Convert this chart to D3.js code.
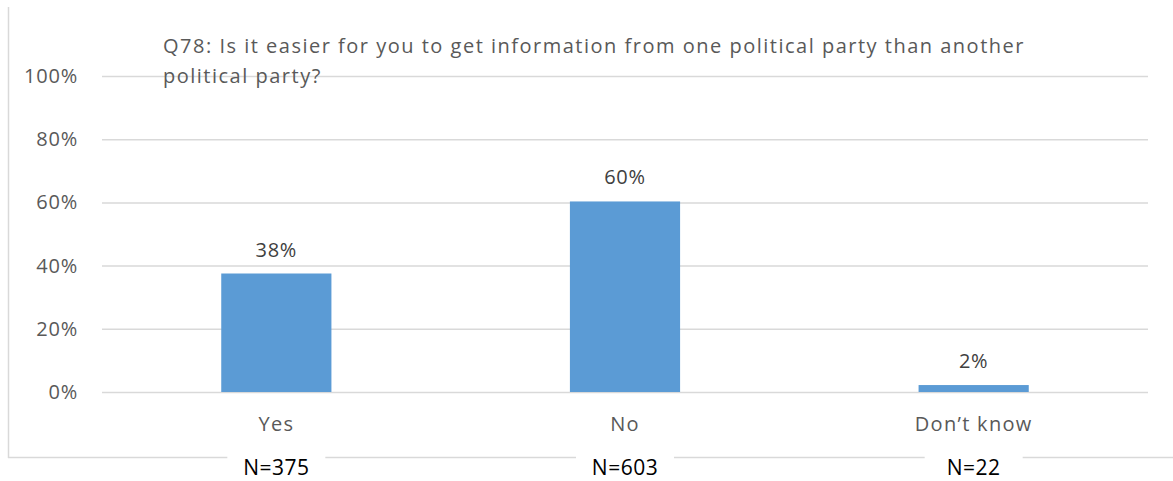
<!DOCTYPE html>
<html>
<head>
<meta charset="utf-8">
<script src="https://cdn.jsdelivr.net/npm/d3@7"></script>
<style>
  html, body { margin: 0; padding: 0; background: #fff; }
  svg { display: block; }
  text { font-family: "Open Sans", "Noto Sans", sans-serif; }
</style>
</head>
<body>
<svg id="chart" width="1173" height="481"></svg>
<script>
const categories = ["Yes", "No", "Don\u2019t know"];
const values = [37.5, 60.3, 2.2];
const valueLabels = ["38%", "60%", "2%"];
const sampleSizes = ["N=375", "N=603", "N=22"];
const yTicks = [0, 20, 40, 60, 80, 100];
const titleLines = [
  "Q78: Is it easier for you to get  information from one political party than another",
  "political party?"
];

const svg = d3.select("#chart");
const plot = { left: 102, right: 1148, top: 76, bottom: 392 };

const x = d3.scaleBand().domain(categories).range([plot.left, plot.right]).padding(0);
const y = d3.scaleLinear().domain([0, 100]).range([plot.bottom, plot.top]);
const barW = x.bandwidth() * 0.316;

// outer frame (left + bottom)
svg.append("line").attr("x1", 8.5).attr("x2", 8.5).attr("y1", 7).attr("y2", 458)
  .attr("stroke", "#d9d9d9").attr("stroke-width", 1.5);
svg.append("line").attr("x1", 8).attr("x2", 1173).attr("y1", 457.5).attr("y2", 457.5)
  .attr("stroke", "#d9d9d9").attr("stroke-width", 1.5);

// gridlines
const yAxis = d3.axisLeft(y).tickValues(yTicks).tickFormat(d => d + "%")
  .tickSize(-(plot.right - plot.left)).tickPadding(24);
const gy = svg.append("g").attr("transform", `translate(${plot.left},0)`).call(yAxis);
gy.select(".domain").remove();
gy.selectAll(".tick line").attr("stroke", "#d9d9d9").attr("stroke-width", 1.5);
gy.selectAll(".tick text").attr("fill", "#595959").style("font-size", "20px")
  .style("letter-spacing", "0.8px")
  .style("font-family", "'Open Sans', sans-serif");

// title
const title = svg.append("text").attr("x", 163).attr("y", 53)
  .attr("fill", "#595959").style("font-size", "20px").style("letter-spacing", "1.5px");
titleLines.forEach((t, i) => {
  title.append("tspan").attr("x", 163).attr("y", 53 + i * 30).text(t);
});

// bars
svg.selectAll("rect.bar").data(values).enter().append("rect")
  .attr("class", "bar")
  .attr("x", (d, i) => x(categories[i]) + x.bandwidth() / 2 - barW / 2)
  .attr("width", barW)
  .attr("y", d => y(d))
  .attr("height", d => y(0) - y(d))
  .attr("fill", "#5b9bd5");

// value labels
svg.selectAll("text.vl").data(values).enter().append("text")
  .attr("class", "vl")
  .attr("x", (d, i) => x(categories[i]) + x.bandwidth() / 2)
  .attr("y", d => y(d) - 17)
  .attr("text-anchor", "middle")
  .attr("fill", "#404040").style("font-size", "20px").style("letter-spacing", "0.7px")
  .text((d, i) => valueLabels[i]);

// category labels
svg.selectAll("text.cat").data(categories).enter().append("text")
  .attr("class", "cat")
  .attr("x", d => x(d) + x.bandwidth() / 2)
  .attr("y", 431)
  .attr("text-anchor", "middle")
  .attr("fill", "#595959").style("font-size", "20px").style("letter-spacing", "1.3px")
  .text(d => d);

// N labels with white background interrupting the frame
const ng = svg.selectAll("g.n").data(sampleSizes).enter().append("g").attr("class", "n");
ng.append("rect")
  .attr("x", (d, i) => x(categories[i]) + x.bandwidth() / 2 - 49)
  .attr("y", 450).attr("width", 98).attr("height", 31).attr("fill", "#fff");
ng.append("text")
  .attr("x", (d, i) => x(categories[i]) + x.bandwidth() / 2)
  .attr("y", 475)
  .attr("text-anchor", "middle")
  .attr("fill", "#000").style("font-size", "21px").style("letter-spacing", "0.5px")
  .text(d => d);
</script>
</body>
</html>
